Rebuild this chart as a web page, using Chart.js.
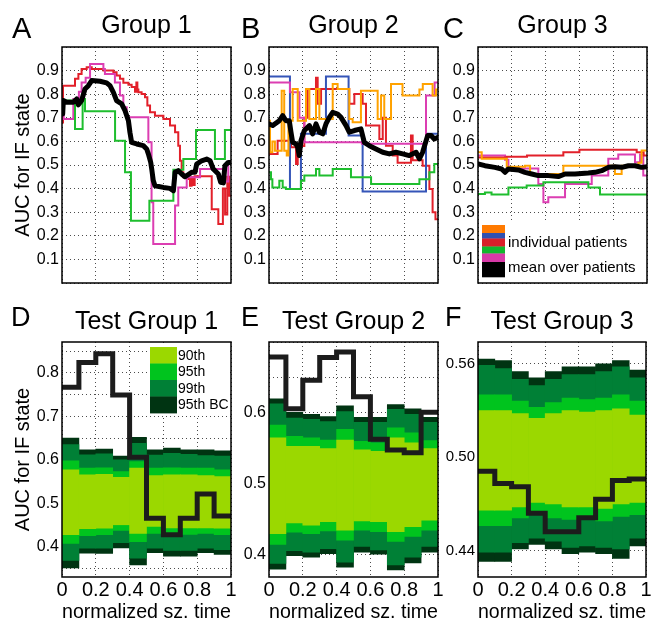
<!DOCTYPE html>
<html><head><meta charset="utf-8">
<script src="https://cdn.jsdelivr.net/npm/chart.js@4.4.0/dist/chart.umd.min.js"></script>
<style>
html,body{margin:0;padding:0;background:#fff;}
#wrap{position:relative;width:658px;height:621px;overflow:hidden;background:#fff;}
#wrap canvas{position:absolute;left:0;top:0;}
</style></head><body>
<div id="wrap">
<canvas id="cA" width="658" height="621"></canvas>
<canvas id="cB" width="658" height="621"></canvas>
<canvas id="cC" width="658" height="621"></canvas>
<canvas id="cD" width="658" height="621"></canvas>
<canvas id="cE" width="658" height="621"></canvas>
<canvas id="cF" width="658" height="621"></canvas>
</div>
<script>
// ---------------- DATA ----------------
// Top row: [normalized time, AUC] step series per patient, and the mean (linear)
const g1Red = [[0,0.68],[0.006,0.836],[0.077,0.865],[0.097,0.886],[0.116,0.907],[0.146,0.914],[0.176,0.907],[0.245,0.90],[0.304,0.893],[0.323,0.879],[0.343,0.865],[0.363,0.848],[0.393,0.84],[0.412,0.83],[0.432,0.81],[0.44,0.85],[0.446,0.82],[0.452,0.808],[0.471,0.801],[0.491,0.787],[0.505,0.752],[0.521,0.723],[0.55,0.709],[0.60,0.695],[0.639,0.667],[0.669,0.639],[0.688,0.582],[0.698,0.518],[0.708,0.469],[0.718,0.448],[0.748,0.441],[0.757,0.412],[0.767,0.448],[0.777,0.415],[0.785,0.452],[0.886,0.313],[0.925,0.25],[0.952,0.40],[0.965,0.29],[0.978,0.45],[0.99,0.37],[1,0.37]];
const g1Magenta = [[0,0.77],[0.01,0.695],[0.067,0.78],[0.10,0.81],[0.116,0.85],[0.14,0.87],[0.166,0.928],[0.245,0.907],[0.254,0.886],[0.313,0.85],[0.343,0.794],[0.363,0.745],[0.383,0.702],[0.511,0.596],[0.53,0.342],[0.54,0.165],[0.669,0.328],[0.688,0.405],[0.738,0.448],[0.817,0.483],[0.964,0.43],[0.984,0.51],[1,0.51]];
const g1Green = [[0,0.773],[0.077,0.653],[0.122,0.78],[0.136,0.728],[0.314,0.603],[0.373,0.469],[0.408,0.264],[0.517,0.349],[0.659,0.48],[0.718,0.525],[0.793,0.648],[0.905,0.525],[0.964,0.648],[1,0.648]];
const g1Mean = [[0,0.745],[0.004,0.716],[0.008,0.773],[0.028,0.766],[0.067,0.766],[0.087,0.78],[0.097,0.755],[0.116,0.773],[0.136,0.822],[0.156,0.836],[0.176,0.858],[0.225,0.855],[0.264,0.848],[0.284,0.836],[0.304,0.808],[0.323,0.773],[0.353,0.759],[0.373,0.73],[0.393,0.688],[0.402,0.638],[0.412,0.596],[0.442,0.589],[0.481,0.582],[0.501,0.568],[0.511,0.547],[0.525,0.511],[0.531,0.483],[0.54,0.434],[0.55,0.412],[0.60,0.405],[0.639,0.401],[0.659,0.391],[0.669,0.469],[0.688,0.476],[0.708,0.462],[0.728,0.45],[0.767,0.469],[0.787,0.469],[0.797,0.504],[0.826,0.518],[0.856,0.525],[0.876,0.518],[0.895,0.483],[0.925,0.462],[0.939,0.427],[0.955,0.424],[0.964,0.497],[0.984,0.511],[1,0.511]];

const g2Blue = [[0,0.875],[0.124,0.398],[0.189,0.632],[0.337,0.875],[0.471,0.625],[0.554,0.388],[0.929,0.632],[1,0.632]];
const g2Orange = [[0,0.688],[0.006,0.554],[0.02,0.60],[0.035,0.56],[0.075,0.815],[0.09,0.56],[0.105,0.54],[0.115,0.688],[0.14,0.822],[0.17,0.688],[0.219,0.822],[0.239,0.695],[0.278,0.822],[0.298,0.695],[0.377,0.843],[0.406,0.822],[0.475,0.695],[0.495,0.681],[0.544,0.815],[0.643,0.695],[0.663,0.794],[0.682,0.695],[0.722,0.843],[0.79,0.794],[0.89,0.82],[0.91,0.843],[0.968,0.794],[0.988,0.82],[1,0.82]];
const g2Red = [[0,0.547],[0.051,0.603],[0.13,0.575],[0.16,0.504],[0.17,0.58],[0.209,0.70],[0.229,0.822],[0.278,0.87],[0.288,0.76],[0.308,0.822],[0.475,0.76],[0.505,0.801],[0.554,0.76],[0.574,0.667],[0.653,0.61],[0.673,0.70],[0.692,0.582],[0.732,0.54],[0.761,0.51],[0.84,0.625],[0.85,0.52],[0.909,0.497],[0.949,0.398],[0.968,0.30],[0.985,0.27],[1,0.27]];
const g2Magenta = [[0,0.85],[0.124,0.808],[0.18,0.70],[0.209,0.596],[0.55,0.59],[0.929,0.794],[0.98,0.85],[1,0.85]];
const g2Green = [[0,0.469],[0.012,0.44],[0.02,0.405],[0.061,0.433],[0.081,0.405],[0.1,0.398],[0.189,0.433],[0.209,0.455],[0.278,0.483],[0.298,0.455],[0.377,0.483],[0.485,0.448],[0.604,0.419],[0.89,0.44],[0.949,0.469],[0.978,0.504],[1,0.504]];
const g2Mean = [[0,0.674],[0.022,0.667],[0.061,0.688],[0.081,0.709],[0.1,0.688],[0.12,0.688],[0.13,0.639],[0.14,0.596],[0.16,0.589],[0.17,0.575],[0.179,0.54],[0.189,0.603],[0.209,0.646],[0.239,0.667],[0.258,0.632],[0.278,0.674],[0.298,0.639],[0.318,0.632],[0.337,0.674],[0.357,0.702],[0.377,0.723],[0.406,0.716],[0.426,0.702],[0.456,0.667],[0.475,0.639],[0.505,0.646],[0.544,0.653],[0.564,0.596],[0.594,0.582],[0.633,0.568],[0.673,0.554],[0.712,0.547],[0.751,0.554],[0.791,0.547],[0.83,0.54],[0.87,0.554],[0.89,0.526],[0.909,0.554],[0.939,0.625],[0.959,0.625],[0.978,0.61],[1,0.617]];

const g3Orange = [[0,0.554],[0.022,0.526],[0.17,0.493],[0.278,0.497],[0.308,0.462],[0.505,0.497],[0.81,0.462],[0.85,0.497],[0.949,0.51],[0.968,0.561],[1,0.561]];
const g3Red = [[0,0.532],[0.17,0.535],[0.29,0.54],[0.505,0.554],[0.60,0.565],[0.939,0.554],[0.98,0.54],[1,0.54]];
const g3Green = [[0,0.377],[0.041,0.384],[0.08,0.375],[0.18,0.405],[0.288,0.413],[0.387,0.427],[0.653,0.405],[0.722,0.375],[1,0.375]];
const g3Magenta = [[0,0.54],[0.16,0.522],[0.18,0.485],[0.357,0.42],[0.387,0.342],[0.416,0.363],[0.515,0.42],[0.673,0.455],[0.771,0.526],[0.83,0.544],[0.929,0.512],[0.959,0.544],[0.978,0.455],[1,0.455]];
const g3Mean = [[0,0.505],[0.041,0.497],[0.1,0.49],[0.14,0.483],[0.16,0.469],[0.179,0.483],[0.239,0.479],[0.278,0.469],[0.318,0.462],[0.357,0.455],[0.416,0.455],[0.475,0.451],[0.515,0.462],[0.574,0.462],[0.653,0.466],[0.692,0.469],[0.732,0.476],[0.771,0.49],[0.81,0.493],[0.85,0.49],[0.89,0.497],[0.929,0.497],[0.968,0.49],[1,0.493]];

// Bottom row: 10 normalized-time bins
const binEdges = [0,0.1,0.2,0.3,0.4,0.5,0.6,0.7,0.8,0.9,1.0];

const tg1Mean  = [0.767,0.824,0.844,0.749,0.606,0.466,0.428,0.466,0.522,0.471];
const tg1BcHi  = [0.650,0.623,0.625,0.609,0.652,0.623,0.627,0.623,0.623,0.621];
const tg1P99Hi = [0.635,0.612,0.614,0.600,0.638,0.611,0.615,0.613,0.610,0.609];
const tg1P95Hi = [0.598,0.581,0.582,0.573,0.596,0.581,0.582,0.581,0.581,0.577];
const tg1P90Hi = [0.577,0.566,0.567,0.560,0.581,0.564,0.566,0.566,0.564,0.562];
const tg1P90Lo = [0.428,0.442,0.443,0.451,0.431,0.447,0.444,0.444,0.444,0.443];
const tg1P95Lo = [0.408,0.426,0.428,0.438,0.412,0.431,0.430,0.429,0.431,0.428];
const tg1P99Lo = [0.369,0.397,0.397,0.410,0.374,0.397,0.392,0.392,0.397,0.394];
const tg1BcLo  = [0.352,0.386,0.385,0.398,0.359,0.387,0.379,0.379,0.387,0.383];

const tg2Mean  = [0.679,0.606,0.646,0.678,0.686,0.623,0.563,0.548,0.544,0.601];
const tg2BcHi  = [0.620,0.601,0.598,0.595,0.610,0.594,0.594,0.612,0.606,0.594];
const tg2P99Hi = [0.613,0.593,0.591,0.588,0.602,0.587,0.587,0.605,0.598,0.587];
const tg2P95Hi = [0.583,0.567,0.565,0.562,0.577,0.560,0.558,0.579,0.572,0.561];
const tg2P90Hi = [0.565,0.553,0.553,0.550,0.562,0.548,0.546,0.565,0.558,0.550];
const tg2P90Lo = [0.430,0.445,0.442,0.447,0.435,0.448,0.447,0.433,0.440,0.449];
const tg2P95Lo = [0.415,0.432,0.430,0.434,0.421,0.435,0.433,0.419,0.426,0.435];
const tg2P99Lo = [0.388,0.406,0.404,0.409,0.390,0.412,0.407,0.386,0.397,0.412];
const tg2BcLo  = [0.380,0.399,0.397,0.402,0.383,0.404,0.401,0.379,0.389,0.404];

const tg3Mean  = [0.491,0.483,0.481,0.464,0.452,0.452,0.461,0.473,0.485,0.486];
const tg3BcHi  = [0.563,0.562,0.555,0.551,0.555,0.558,0.558,0.560,0.562,0.556];
const tg3P99Hi = [0.559,0.557,0.550,0.546,0.550,0.553,0.553,0.555,0.558,0.551];
const tg3P95Hi = [0.540,0.540,0.536,0.532,0.535,0.538,0.537,0.538,0.540,0.536];
const tg3P90Hi = [0.530,0.530,0.528,0.525,0.528,0.530,0.529,0.530,0.531,0.527];
const tg3P90Lo = [0.466,0.466,0.468,0.471,0.470,0.468,0.468,0.467,0.470,0.471];
const tg3P95Lo = [0.456,0.456,0.461,0.463,0.461,0.460,0.461,0.459,0.462,0.463];
const tg3P99Lo = [0.439,0.439,0.445,0.448,0.446,0.442,0.443,0.442,0.441,0.448];
const tg3BcLo  = [0.433,0.433,0.441,0.444,0.441,0.438,0.439,0.438,0.435,0.443];

// Ticks / grid
const topXGrid = [0,0.2,0.4,0.6,0.8,1];
const topYGrid = [0,0.1,0.2,0.3,0.4,0.5,0.6,0.7,0.8,0.9,1];
const topYLabels = [0.1,0.2,0.3,0.4,0.5,0.6,0.7,0.8,0.9];
const botXGrid = [0,0.2,0.4,0.6,0.8,1];
const botXLabels = [0,0.2,0.4,0.6,0.8,1];
const tg1YGrid = [0.35,0.4,0.45,0.5,0.55,0.6,0.65,0.7,0.75,0.8,0.85];
const tg1YLabels = [0.4,0.5,0.6,0.7,0.8];
const tg2YGrid = [0.4,0.45,0.5,0.55,0.6,0.65,0.7];
const tg2YLabels = [0.4,0.5,0.6];
const tg3YGrid = [0.44,0.50,0.56];
const tg3YLabels = [0.44,0.50,0.56];

// Texts
const topTitles = ['Group 1','Group 2','Group 3'];
const botTitles = ['Test Group 1','Test Group 2','Test Group 3'];
const letters = ['A','B','C','D','E','F'];
const yTitle = 'AUC for IF state';
const xTitle = 'normalized sz. time';
const bandNames = ['90th','95th','99th','95th BC'];
const bandColors = ['#9bd800','#00c41e','#008036','#003412'];
const patientLegend = ['individual patients','mean over patients'];
const patientColors = ['#ff7a00','#3050b0','#d9202a','#12b82e','#d83aa8','#000000'];

const C_ORANGE = '#ffa200', C_BLUE = '#3555b8', C_RED = '#e2202a', C_GREEN = '#1ebe2e', C_MAG = '#dc3eb2';

// ---------------- HELPERS ----------------
Chart.defaults.font.family = '"Liberation Sans", Arial, Helvetica, sans-serif';
Chart.defaults.color = '#000';

function pts(pairs){ return pairs.map(p => ({x:p[0], y:p[1]})); }
function stepPts(vals){ const d = vals.map((v,i)=>({x:binEdges[i], y:v})); d.push({x:binEdges[vals.length], y:vals[vals.length-1]}); return d; }
function barPts(lo, hi){ return lo.map((v,i)=>({x:(binEdges[i]+binEdges[i+1])/2, y:[v, hi[i]]})); }
function fmt(list, v, digits){ for (const t of list) if (Math.abs(t - v) < 1e-6) return digits < 0 ? String(Math.round(t*10)/10) : t.toFixed(digits); return ''; }

const FONT = '"Liberation Sans", Arial, Helvetica, sans-serif';

const deco = {
  id: 'deco',
  afterDatasetsDraw(chart, args, o) {
    const ctx = chart.ctx, a = chart.chartArea;
    ctx.save();
    if (o.legend === 'bands') {
      ctx.fillStyle = '#fff';
      ctx.fillRect(a.left + 85, a.top + 1, 81, 72);
      const rh = 16.5;
      ctx.font = '14px ' + FONT;
      ctx.textBaseline = 'middle';
      bandNames.forEach((n, i) => {
        ctx.fillStyle = bandColors[i];
        ctx.fillRect(a.left + 88, a.top + 5 + i*rh, 27, rh + 0.4);
        ctx.fillStyle = '#000';
        ctx.fillText(n, a.left + 116, a.top + 5 + i*rh + rh/2 + 0.5);
      });
    }
    if (o.legend === 'patients') {
      ctx.fillStyle = '#fff';
      ctx.fillRect(a.left + 3, a.bottom - 60, a.right - a.left - 3, 57);
      const hs = [8, 5.5, 8, 7, 8.5, 15];
      let y = a.bottom - 58;
      hs.forEach((h, i) => { ctx.fillStyle = patientColors[i]; ctx.fillRect(a.left + 4, y, 23, h + 0.3); y += h; });
      ctx.fillStyle = '#000';
      ctx.font = '15px ' + FONT;
      ctx.textBaseline = 'middle';
      ctx.fillText(patientLegend[0], a.left + 30, a.bottom - 40);
      ctx.fillText(patientLegend[1], a.left + 30, a.bottom - 15);
    }
    ctx.strokeStyle = '#000';
    ctx.lineWidth = 1.5;
    ctx.strokeRect(a.left, a.top, a.right - a.left, a.bottom - a.top);
    ctx.fillStyle = '#000';
    ctx.font = o.letterSize + 'px ' + FONT;
    ctx.textBaseline = 'alphabetic';
    ctx.fillText(o.letter, o.lx, o.ly);
    ctx.restore();
  }
};

const GRID = { color: 'rgba(0,0,0,0.7)', lineWidth: 1, drawTicks: false, offset: false };
const BORDER = { display: false, dash: [1, 3] };

function makePanel(id, p) {
  const top = p.row === 0;
  const opts = {
    responsive: false, animation: false, devicePixelRatio: 1,
    layout: { padding: top ? { left: p.left - p.yW, right: 658 - p.right, top: 0, bottom: 621 - 283 }
                           : { left: p.left - p.yW, right: 658 - p.right, top: 300, bottom: 0 } },
    plugins: {
      legend: { display: false }, tooltip: { enabled: false },
      title: { display: true, text: p.title, fullSize: false, color: '#000',
               font: { size: 25, weight: 'normal', lineHeight: 1.2 },
               padding: top ? { top: 11.3, bottom: 5.7 } : { top: 7.3, bottom: 4.7 } },
      deco: { letter: p.letter, lx: p.lx, ly: p.ly, letterSize: p.letterSize, legend: p.legend || null }
    },
    scales: {
      x: {
        type: 'linear', min: 0, max: 1, offset: false,
        afterBuildTicks: s => { s.ticks = p.xGrid.map(v => ({ value: v })); },
        afterFit: s => { s.height = top ? 0 : 44; },
        ticks: { display: !top, autoSkip: false, maxRotation: 0, minRotation: 0, padding: 1,
                 font: { size: 20 }, color: '#000', callback: v => fmt(botXLabels, v, -1) },
        grid: GRID, border: BORDER,
        title: top ? { display: false } : { display: true, text: xTitle, color: '#000', font: { size: 20 }, padding: { top: 0, bottom: -3 } }
      },
      y: {
        type: 'linear', min: p.yMin, max: p.yMax,
        afterBuildTicks: s => { s.ticks = p.yGrid.map(v => ({ value: v })); },
        afterFit: s => { s.width = p.yW; },
        ticks: { autoSkip: false, padding: 3, font: { size: p.yFont || 16 }, color: '#000',
                 callback: v => fmt(p.yLabels, v, p.yDigits) },
        grid: GRID, border: BORDER,
        title: p.yTitle ? { display: true, text: p.yTitle, color: '#000', font: { size: 20 }, padding: { top: 11.6, bottom: 0 } } : { display: false }
      }
    }
  };
  new Chart(document.getElementById(id), { type: 'line', data: { datasets: p.datasets }, options: opts, plugins: [deco] });
}

function topSets(lines, mean) {
  const ds = [{ type: 'line', label: 'mean over patients', data: pts(mean), borderColor: '#000', borderWidth: 5, pointRadius: 0,
                borderJoinStyle: 'round', borderCapStyle: 'round', order: 0 }];
  lines.forEach((l, i) => ds.push({ type: 'line', label: 'patient', data: pts(l[0]), borderColor: l[1], borderWidth: 2,
                                     pointRadius: 0, stepped: true, order: i + 1 }));
  return ds;
}
function botSets(mean, bands) {
  const ds = [{ type: 'line', label: 'AUC', data: stepPts(mean), borderColor: '#1c1c1c', borderWidth: 5, pointRadius: 0,
                stepped: true, borderJoinStyle: 'miter', borderCapStyle: 'butt', order: 0 }];
  bands.forEach((b, i) => ds.push({ type: 'bar', label: bandNames[i], data: barPts(b[0], b[1]), backgroundColor: bandColors[i],
                                     borderWidth: 0, grouped: false, barPercentage: 1, categoryPercentage: 1, order: i + 1 }));
  return ds;
}

// ---------------- PANELS ----------------
makePanel('cA', { row: 0, left: 62, right: 231, yW: 62, yMin: 0, yMax: 1, yGrid: topYGrid, yLabels: topYLabels, yDigits: 1,
  xGrid: topXGrid, title: topTitles[0], yTitle: yTitle, letter: letters[0], lx: 12, ly: 38, letterSize: 29,
  datasets: topSets([[g1Green, C_GREEN], [g1Magenta, C_MAG], [g1Red, C_RED]], g1Mean) });
makePanel('cB', { row: 0, left: 269, right: 438, yW: 40, yMin: 0, yMax: 1, yGrid: topYGrid, yLabels: topYLabels, yDigits: 1,
  xGrid: topXGrid, title: topTitles[1], letter: letters[1], lx: 241, ly: 38, letterSize: 29,
  datasets: topSets([[g2Orange, C_ORANGE], [g2Green, C_GREEN], [g2Magenta, C_MAG], [g2Blue, C_BLUE], [g2Red, C_RED]], g2Mean) });
makePanel('cC', { row: 0, left: 478, right: 647, yW: 40, yMin: 0, yMax: 1, yGrid: topYGrid, yLabels: topYLabels, yDigits: 1,
  xGrid: topXGrid, title: topTitles[2], letter: letters[2], lx: 443, ly: 38, letterSize: 29, legend: 'patients',
  datasets: topSets([[g3Green, C_GREEN], [g3Orange, C_ORANGE], [g3Red, C_RED], [g3Magenta, C_MAG]], g3Mean) });

makePanel('cD', { row: 1, left: 62, right: 231, yW: 62, yMin: 0.331, yMax: 0.871, yGrid: tg1YGrid, yLabels: tg1YLabels, yDigits: 1,
  xGrid: botXGrid, title: botTitles[0], yTitle: yTitle, letter: letters[3], lx: 11, ly: 326, letterSize: 27, legend: 'bands',
  datasets: botSets(tg1Mean, [[tg1P90Lo, tg1P90Hi], [tg1P95Lo, tg1P95Hi], [tg1P99Lo, tg1P99Hi], [tg1BcLo, tg1BcHi]]) });
makePanel('cE', { row: 1, left: 269, right: 438, yW: 40, yMin: 0.369, yMax: 0.70, yGrid: tg2YGrid, yLabels: tg2YLabels, yDigits: 1,
  xGrid: botXGrid, title: botTitles[1], letter: letters[4], lx: 241, ly: 326, letterSize: 27,
  datasets: botSets(tg2Mean, [[tg2P90Lo, tg2P90Hi], [tg2P95Lo, tg2P95Hi], [tg2P99Lo, tg2P99Hi], [tg2BcLo, tg2BcHi]]) });
makePanel('cF', { row: 1, left: 478, right: 646, yW: 40, yMin: 0.423, yMax: 0.574, yGrid: tg3YGrid, yLabels: tg3YLabels, yDigits: 2, yFont: 15,
  xGrid: botXGrid, title: botTitles[2], letter: letters[5], lx: 445, ly: 326, letterSize: 27,
  datasets: botSets(tg3Mean, [[tg3P90Lo, tg3P90Hi], [tg3P95Lo, tg3P95Hi], [tg3P99Lo, tg3P99Hi], [tg3BcLo, tg3BcHi]]) });
</script>
</body></html>
